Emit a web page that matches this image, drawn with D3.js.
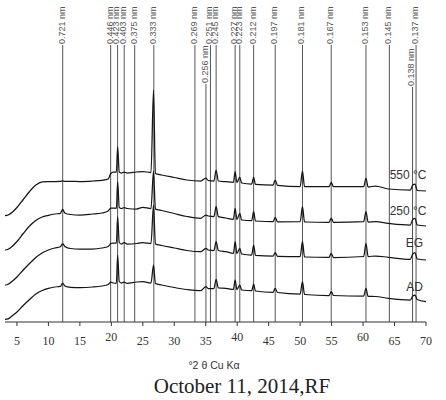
<!DOCTYPE html>
<html>
<head>
<meta charset="utf-8">
<script src="https://cdn.jsdelivr.net/npm/d3@7"></script>
<style>
  body { margin: 0; background: #fff; }
  svg { display: block; }
  .tick-label { font-family: "Liberation Serif", "Times New Roman", serif; font-size: 12px; fill: #333; }
  .peak-label { font-family: "Liberation Sans", Arial, sans-serif; font-size: 9px; fill: #555; }
  .trace-label { font-family: "Liberation Sans", Arial, sans-serif; font-size: 12px; fill: #333; }
</style>
</head>
<body>
<svg id="chart" width="446" height="400"></svg>
<script>
// reflections: d-spacing label and its 2theta position
var peakLabels = ["0.721 nm", "0.446 nm", "0.423 nm", "0.403 nm", "0.375 nm", "0.333 nm", "0.269 nm",
  "0.256 nm", "0.251 nm", "0.245 nm", "0.227 nm", "0.223 nm", "0.212 nm", "0.197 nm", "0.181 nm",
  "0.167 nm", "0.153 nm", "0.145 nm", "0.138 nm", "0.137 nm"];
var peakTheta = [12.27, 19.89, 20.99, 22.04, 23.71, 26.75, 33.28, 35.03, 35.75, 36.65, 39.67, 40.41,
  42.61, 46.04, 50.37, 54.94, 60.46, 64.18, 67.86, 68.42];
var lowLabels = ["0.256 nm", "0.138 nm"];

var xTicks = [5, 10, 15, 20, 25, 30, 35, 40, 45, 50, 55, 60, 65, 70];

// patterns (2theta, intensity)
var theta = [3.1, 3.6, 4.3, 5, 6, 7, 8, 9, 10, 11, 11.9, 12.27, 12.6, 13.5, 15, 17, 18.5, 19.5, 19.9, 20.3,
  20.8, 21.0, 21.25, 21.6, 22.04, 22.5, 24, 25, 26.3, 26.7, 27.0, 28, 30, 32, 34.2, 35.03, 35.4, 36.3, 36.65, 37.0,
  38.2, 39.4, 39.67, 39.95, 40.41, 40.7, 42.3, 42.61, 42.9, 45.7, 46.04, 46.4, 50, 50.37, 50.7, 54.6, 54.94, 55.3,
  60.1, 60.46, 60.8, 62, 64, 67.5, 67.9, 68.25, 68.6, 70];
var ad = [0, 0.5, 3.8, 7.3, 13.8, 19.8, 25.3, 28.8, 31, 32.3, 33, 36.3, 33.3, 32, 31.8, 32.3, 33.3, 34.8, 37.3, 36.3,
  36, 64.3, 37.8, 36.3, 37.3, 36, 37.3, 37.6, 36.3, 54.3, 35.8, 34.3, 31.8, 29.8, 28.6, 32.6, 30.8, 30.8, 40, 31.3,
  31, 30, 39.3, 29.8, 34.3, 29.3, 28.6, 35.3, 28.3, 27, 31, 26.8, 25.3, 37.6, 24.8, 23.8, 27.6, 23.8,
  23.3, 31, 23, 22.8, 21, 19.3, 23.3, 24.3, 19.8, 17.6];
var eg = [0, 0.7, 4, 8, 15, 21.5, 27.5, 32, 35, 37, 38.3, 41.5, 38.5, 36.5, 36, 36, 37, 38.5, 41.5, 42,
  42, 68.3, 42.5, 41, 42.5, 41, 41.5, 42.3, 41.5, 80, 41, 39.5, 37, 34.5, 33.3, 36.7, 35, 34.5, 43.3, 34.5,
  33.3, 31.7, 43.3, 31.5, 36.7, 31, 30, 40, 29.7, 29, 32.3, 28.7, 28.3, 43.3, 28, 27.7, 31.7, 27.5,
  28.5, 41.7, 28.5, 29, 27.7, 25.7, 31, 32.3, 26, 25];
var t250 = [0, 0.7, 4, 8.5, 16.5, 24, 29.5, 33, 34.7, 36, 36.7, 40.7, 37, 35.5, 35, 36, 37, 39, 42, 42,
  41.7, 68.3, 42.5, 41.5, 42.5, 41.5, 41, 42.7, 41.5, 79, 41, 39.5, 36.5, 33.5, 31.7, 35, 34, 33.5, 43.3, 33.3,
  32, 30.7, 41.7, 30.5, 36.7, 30, 29.3, 38.3, 29, 28.3, 32.7, 28.2, 28.3, 43.3, 28, 27.7, 31.7, 27.7,
  28.3, 38.3, 28, 28.3, 26.7, 25, 30.5, 31.7, 25, 24];
var t550 = [0, 0.7, 3.7, 8.2, 16.2, 24.2, 30.7, 33.9, 34.2, 34.2, 34.3, 34.9, 34.4, 34.4, 34.2, 34.7, 35.4, 36.7, 42.2, 43.7,
  43.7, 69, 43.7, 42.7, 43.7, 42.7, 43.7, 44.2, 43.2, 125.7, 42.2, 40.7, 38.2, 35.7, 34.7, 37.7, 35.2, 34.7, 45.7, 34.7,
  34, 33.4, 44, 33.2, 38.7, 32.7, 31.7, 38.4, 31.4, 30.7, 35.7, 30.4, 29.2, 44.7, 29, 29, 33.4, 29,
  29, 37.4, 28.7, 29.7, 26.7, 25.7, 30.7, 31.7, 25.2, 24.7];

var traceNames = ["AD", "EG", "250 °C", "550 °C"];
var traceValues = [ad, eg, t250, t550];
var traceOffsets = [2.7, 37, 72, 106.3];

var svg = d3.select("#chart");

var x = d3.scaleLinear()
    .domain([3.1, 70])
    .range([5, 426]);
var y = d3.scaleLinear()
    .domain([0, 320])
    .range([322, 2]);

// reference lines + d-spacing labels
var refs = svg.append("g").attr("class", "refs");
peakTheta.forEach(function(t, i) {
  var low = lowLabels.indexOf(peakLabels[i]) >= 0;
  var top = low ? (peakLabels[i] == "0.256 nm" ? 84 : 87) : 45;
  refs.append("line")
      .attr("x1", x(t)).attr("x2", x(t))
      .attr("y1", y(0)).attr("y2", top)
      .attr("stroke", "#555")
      .attr("stroke-width", 1);
  refs.append("text")
      .attr("class", "peak-label")
      .attr("transform", "translate(" + (x(t) - 1) + "," + (top - 1) + ") rotate(-90)")
      .attr("dy", "0.32em")
      .text(peakLabels[i]);
});

// patterns
var line = d3.line()
    .x(function(d) { return x(d[0]); })
    .y(function(d) { return y(d[1]); })
    .curve(d3.curveMonotoneX);

traceValues.forEach(function(vals, k) {
  var pts = theta.map(function(t, i) { return [t, vals[i] + traceOffsets[k]]; });
  svg.append("path")
      .datum(pts)
      .attr("fill", "none")
      .attr("stroke", "#151515")
      .attr("stroke-width", 1.25)
      .attr("stroke-linejoin", "round")
      .attr("d", line);
});

// trace labels
var labelPos = [[423, 291], [423, 247], [426.5, 215], [426.5, 179]];
traceNames.forEach(function(n, k) {
  svg.append("text")
      .attr("class", "trace-label")
      .attr("x", labelPos[k][0])
      .attr("y", labelPos[k][1])
      .attr("text-anchor", "end")
      .text(n);
});

// x axis
var axis = svg.append("g").attr("class", "axis");
axis.append("line")
    .attr("x1", x(3.1)).attr("x2", x(70))
    .attr("y1", y(0)).attr("y2", y(0))
    .attr("stroke", "#333");
axis.selectAll(".tk")
    .data(xTicks)
  .enter().append("line")
    .attr("x1", x).attr("x2", x)
    .attr("y1", y(0)).attr("y2", y(0) + 4)
    .attr("stroke", "#333");
axis.selectAll(".tick-label")
    .data(xTicks)
  .enter().append("text")
    .attr("class", "tick-label")
    .attr("x", x)
    .attr("y", function(d) { return (d == 20 || d == 40 || d == 60) ? 340.5 : 344.5; })
    .attr("text-anchor", "middle")
    .text(function(d) { return d; });

svg.append("text")
    .attr("x", 214)
    .attr("y", 369)
    .attr("text-anchor", "middle")
    .style("font-family", "'Liberation Sans', Arial, sans-serif")
    .style("font-size", "10.5px")
    .style("fill", "#333")
    .text("°2 θ Cu Kα");

svg.append("text")
    .attr("x", 242)
    .attr("y", 393)
    .attr("text-anchor", "middle")
    .style("font-family", "'Liberation Serif', 'Times New Roman', serif")
    .style("font-size", "21px")
    .style("fill", "#222")
    .text("October 11, 2014,RF");
</script>
</body>
</html>
